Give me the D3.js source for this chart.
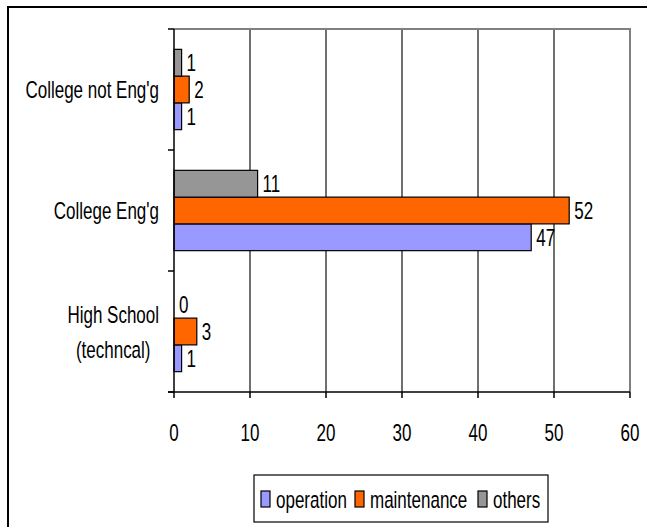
<!DOCTYPE html>
<html><head><meta charset="utf-8">
<script src="https://cdn.jsdelivr.net/npm/d3@7"></script>
<style>body{margin:0;background:#fff}svg{display:block}text{font-family:"Liberation Sans",Arial,sans-serif;fill:#000}</style>
</head><body>
<svg id="c" width="647" height="527"></svg>
<script>
const categories = ["College not Eng'g", "College Eng'g", "High School (techncal)"];
const categoryLines = [["College not Eng'g"], ["College Eng'g"], ["High School", "(techncal)"]];
const seriesNames = ["operation", "maintenance", "others"];
const operation = [1, 47, 1];
const maintenance = [2, 52, 3];
const others = [1, 11, 0];
const xTicks = [0, 10, 20, 30, 40, 50, 60];
const colors = {operation: "#9999FF", maintenance: "#FF6600", others: "#969696"};

const seriesData = {operation, maintenance, others};
const svg = d3.select("#c");
const FS = 17, SY = 1.45;

function stext(parent, x, y, str, anchor) {
  const g = parent.append("g").attr("transform", `translate(${x},${y}) scale(1,${SY})`);
  return g.append("text").attr("font-size", FS).attr("dy", "0.35em")
    .attr("text-anchor", anchor || "start").text(str);
}

// outer border
svg.append("rect").attr("x", 8).attr("y", 7).attr("width", 700).attr("height", 600)
  .attr("fill", "none").attr("stroke", "#000").attr("stroke-width", 2);

const x = d3.scaleLinear().domain([0, 60]).range([174, 630]);
const y = d3.scaleBand().domain(categories).range([29, 392]).padding(0);
const yInner = d3.scaleBand().domain(["others", "maintenance", "operation"])
  .range([0, y.bandwidth()]).paddingInner(0).paddingOuter(0.76);

// gridlines
svg.append("g").selectAll("line").data(xTicks.filter(d => d > 0 && d < 60)).join("line")
  .attr("x1", d => x(d)).attr("x2", d => x(d)).attr("y1", 29).attr("y2", 392)
  .attr("stroke", "#222").attr("stroke-width", 1.3);
// plot border top/right (grey)
svg.append("path").attr("d", `M${x(0)},${29}H${x(60)}V${392}`)
  .attr("fill", "none").attr("stroke", "#808080").attr("stroke-width", 2);

// bars
const bars = [];
categories.forEach((c, i) => seriesNames.forEach(s => bars.push({c, s, v: seriesData[s][i]})));
svg.append("g").selectAll("rect").data(bars.filter(d => d.v > 0)).join("rect")
  .attr("x", x(0)).attr("y", d => y(d.c) + yInner(d.s))
  .attr("width", d => x(d.v) - x(0)).attr("height", yInner.bandwidth())
  .attr("fill", d => colors[d.s]).attr("stroke", "#000").attr("stroke-width", 1.2);

// value labels
const vl = svg.append("g");
bars.forEach(d => stext(vl, x(d.v) + 5, y(d.c) + yInner(d.s) + yInner.bandwidth() / 2, String(d.v)));

// y axis
const yb = [29, ...categories.map(c => y(c) + y.bandwidth())];
svg.append("line").attr("x1", x(0)).attr("x2", x(0)).attr("y1", 29).attr("y2", 392)
  .attr("stroke", "#000").attr("stroke-width", 1.5);
svg.append("g").selectAll("line").data(yb).join("line")
  .attr("x1", x(0) - 6).attr("x2", x(0)).attr("y1", d => d).attr("y2", d => d)
  .attr("stroke", "#000").attr("stroke-width", 1.5);
// x axis
svg.append("line").attr("x1", x(0) - 6).attr("x2", x(60)).attr("y1", 392).attr("y2", 392)
  .attr("stroke", "#000").attr("stroke-width", 1.5);
svg.append("g").selectAll("line").data(xTicks).join("line")
  .attr("x1", d => x(d)).attr("x2", d => x(d)).attr("y1", 392).attr("y2", 398)
  .attr("stroke", "#000").attr("stroke-width", 1.5);
const xl = svg.append("g");
xTicks.forEach(t => stext(xl, x(t), 432, String(t), "middle"));

// category labels
const cl = svg.append("g");
categories.forEach((c, i) => {
  const lines = categoryLines[i];
  const cy = y(c) + y.bandwidth() / 2;
  const lh = 35;
  if (lines.length === 1) {
    stext(cl, 159, cy, lines[0], "end");
  } else {
    const tmp = lines.map(l => stext(cl, 0, -100, l));
    const w = Math.max(...tmp.map(t => t.node().getComputedTextLength()));
    tmp.forEach(t => t.node().parentNode.remove());
    lines.forEach((l, k) => stext(cl, 159 - w / 2, cy + (k - (lines.length - 1) / 2) * lh, l, "middle"));
  }
});

// legend
const lg = svg.append("g");
lg.append("rect").attr("x", 254).attr("y", 475).attr("width", 294).attr("height", 47)
  .attr("fill", "#fff").attr("stroke", "#000").attr("stroke-width", 1.2);
const legX = {operation: 261, maintenance: 355, others: 478};
seriesNames.forEach(s => {
  lg.append("rect").attr("x", legX[s]).attr("y", 491).attr("width", 9).attr("height", 16)
    .attr("fill", colors[s]).attr("stroke", "#000").attr("stroke-width", 1.2);
  stext(lg, legX[s] + 15, 499.5, s);
});
</script>
</body></html>
